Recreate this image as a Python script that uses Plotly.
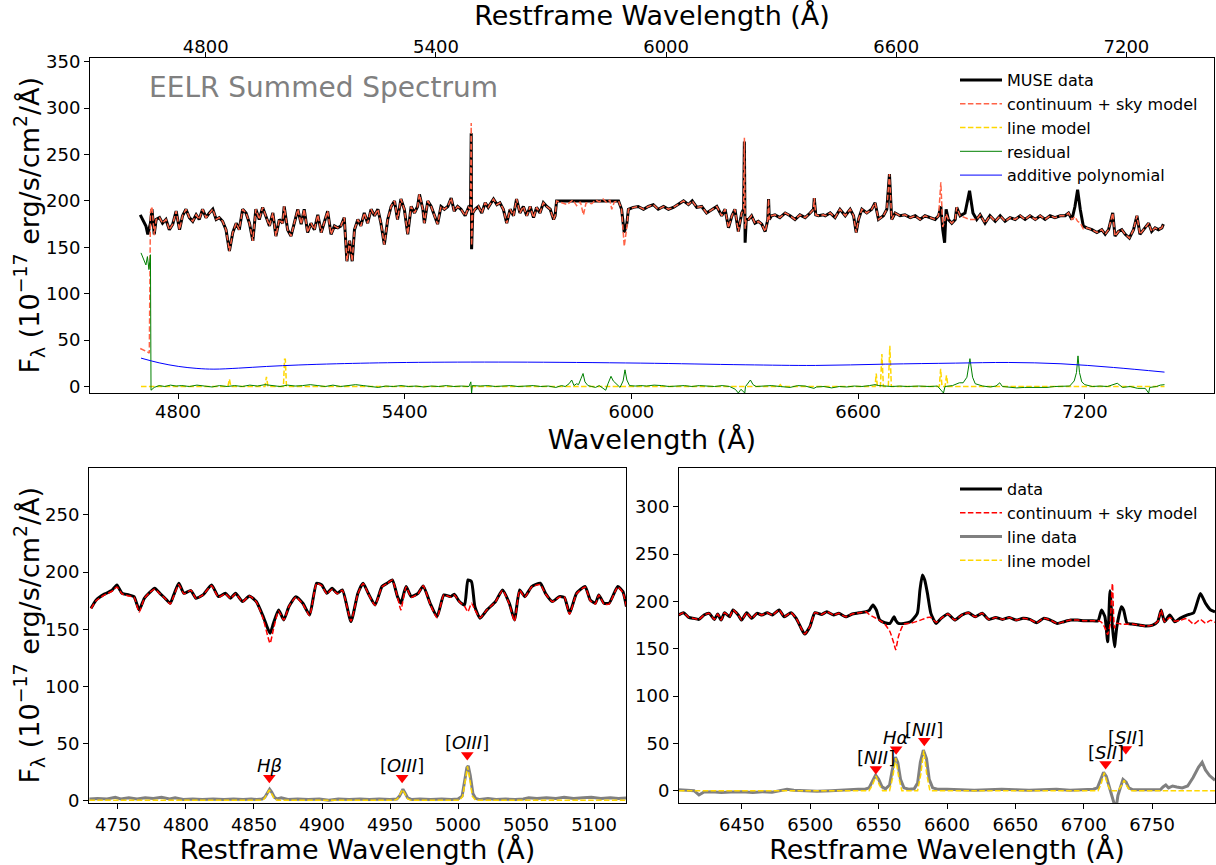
import plotly.graph_objects as go

FONT = "DejaVu Sans"
W, H = 1216, 865
Z = 0.0153  # redshift used for the restframe (top) axis

# ---------------- top panel : observed wavelength ----------------
top_wave = [4700, 4707, 4712, 4715, 4720, 4724, 4727, 4731, 4737, 4742, 4751, 4759, 4768, 4777, 4786, 4795,
            4804, 4812, 4821, 4830, 4839, 4848, 4856, 4865, 4874, 4883, 4892, 4901, 4909, 4918, 4927, 4936,
            4945, 4954, 4962, 4971, 4980, 4989, 4998, 5006, 5015, 5024, 5033, 5042, 5051, 5059, 5068, 5077,
            5081, 5090, 5099, 5108, 5117, 5126, 5134, 5143, 5152, 5161, 5170, 5179, 5187, 5196, 5205, 5214,
            5223, 5231, 5240, 5247, 5254, 5261, 5267, 5276, 5284, 5293, 5302, 5311, 5320, 5329, 5337, 5346,
            5355, 5364, 5373, 5381, 5390, 5399, 5408, 5417, 5426, 5434, 5439, 5448, 5452, 5461, 5470, 5479,
            5487, 5496, 5505, 5514, 5523, 5531, 5540, 5549, 5560, 5569, 5574, 5576, 5577, 5580, 5586, 5595,
            5604, 5613, 5621, 5635, 5644, 5652, 5661, 5670, 5679, 5688, 5696, 5705, 5714, 5723, 5732, 5741,
            5749, 5758, 5767, 5776, 5785, 5794, 5798, 5802, 5815, 5830, 5845, 5855, 5865, 5873, 5880, 5895,
            5905, 5915, 5925, 5935, 5943, 5948, 5955, 5966, 5974, 5981, 5988, 5992, 6005, 6018, 6032, 6045,
            6058, 6071, 6085, 6098, 6111, 6124, 6138, 6151, 6161, 6173, 6186, 6199, 6213, 6226, 6239, 6248,
            6257, 6266, 6274, 6283, 6292, 6297, 6299, 6301, 6304, 6310, 6318, 6327, 6336, 6345, 6354, 6361,
            6363, 6365, 6371, 6380, 6393, 6407, 6420, 6433, 6446, 6460, 6473, 6482, 6484, 6488, 6495, 6508,
            6513, 6526, 6539, 6552, 6566, 6579, 6588, 6595, 6601, 6610, 6623, 6636, 6645, 6654, 6667, 6676,
            6683, 6689, 6698, 6711, 6724, 6738, 6751, 6764, 6777, 6791, 6804, 6813, 6819, 6824, 6829, 6833,
            6839, 6848, 6857, 6861, 6870, 6883, 6895, 6904, 6914, 6923, 6936, 6949, 6963, 6976, 6989, 7002,
            7016, 7029, 7042, 7055, 7069, 7082, 7095, 7108, 7121, 7135, 7148, 7157, 7166, 7174, 7181, 7188,
            7196, 7205, 7219, 7232, 7245, 7254, 7263, 7274, 7280, 7289, 7298, 7307, 7318, 7329, 7338, 7346,
            7360, 7369, 7377, 7386, 7395, 7404, 7408]
top_data = [185, 180, 176, 173, 164, 170, 176, 191, 164, 180, 182, 176, 180, 169, 175, 189,
            169, 184, 191, 182, 178, 185, 180, 191, 182, 187, 191, 180, 182, 178, 169, 146,
            166, 176, 169, 191, 187, 176, 157, 191, 180, 193, 184, 173, 187, 162, 180, 176,
            194, 169, 162, 176, 191, 175, 191, 166, 176, 169, 185, 166, 178, 189, 164, 173,
            171, 173, 182, 135, 157, 135, 169, 180, 173, 187, 176, 191, 184, 191, 176, 153,
            180, 194, 200, 180, 202, 191, 164, 194, 187, 194, 207, 191, 176, 200, 194, 184,
            175, 194, 191, 194, 203, 189, 194, 191, 184, 193, 191, 273, 148, 187, 191, 194,
            187, 198, 193, 202, 196, 198, 191, 176, 191, 184, 202, 187, 194, 184, 194, 182,
            193, 187, 198, 194, 191, 180, 184, 200, 200, 200, 200, 200, 200, 200, 200, 200,
            200, 200, 200, 200, 200, 200, 200, 200, 191, 166, 176, 191, 193, 194, 191, 194,
            196, 191, 194, 191, 193, 196, 200, 196, 200, 193, 194, 187, 191, 194, 184, 191,
            171, 184, 191, 167, 187, 191, 264, 155, 180, 180, 184, 176, 178, 175, 167, 180,
            202, 180, 184, 185, 182, 187, 184, 180, 185, 182, 187, 191, 203, 185, 184, 185,
            184, 187, 182, 191, 184, 191, 184, 166, 180, 191, 187, 191, 198, 180, 184, 191,
            229, 180, 187, 184, 185, 182, 184, 180, 184, 182, 180, 184, 194, 169, 155, 191,
            180, 176, 180, 193, 184, 187, 211, 187, 180, 185, 176, 184, 178, 184, 178, 182,
            180, 184, 180, 184, 180, 184, 180, 184, 182, 184, 184, 187, 180, 194, 212, 191,
            173, 171, 169, 166, 169, 164, 169, 187, 162, 167, 169, 164, 160, 169, 184, 164,
            171, 176, 167, 171, 169, 171, 175]
top_model = [41, 40, 39, 38, 37, 36, 188, 194, 163, 180, 182, 176, 180, 169, 175, 189,
             169, 184, 191, 182, 178, 185, 180, 191, 182, 187, 191, 180, 182, 178, 169, 146,
             166, 176, 169, 191, 187, 176, 157, 191, 180, 193, 184, 173, 187, 162, 180, 176,
             194, 169, 162, 176, 191, 175, 191, 166, 176, 169, 185, 166, 178, 189, 164, 173,
             171, 173, 182, 135, 157, 135, 169, 180, 173, 187, 176, 191, 184, 191, 176, 153,
             180, 194, 200, 180, 202, 191, 164, 194, 187, 194, 207, 191, 176, 200, 194, 184,
             175, 194, 191, 194, 203, 189, 194, 191, 184, 193, 191, 284, 152, 187, 191, 194,
             187, 198, 193, 202, 196, 198, 191, 176, 191, 184, 202, 187, 194, 184, 194, 182,
             193, 187, 198, 194, 191, 180, 184, 200, 198, 196, 201, 195, 199, 185, 198, 197,
             201, 199, 202, 198, 201, 191, 199, 200, 191, 151, 172, 191, 193, 194, 191, 194,
             196, 191, 194, 191, 193, 196, 200, 196, 200, 193, 194, 187, 191, 194, 184, 191,
             171, 184, 191, 167, 187, 191, 268, 170, 180, 180, 184, 176, 178, 175, 167, 180,
             202, 180, 184, 185, 182, 187, 184, 180, 185, 182, 187, 191, 203, 185, 184, 185,
             184, 187, 182, 191, 184, 191, 184, 166, 180, 191, 187, 191, 198, 180, 184, 191,
             229, 180, 187, 184, 185, 182, 184, 180, 184, 182, 180, 184, 220, 172, 178, 186,
             180, 176, 180, 193, 184, 182, 180, 180, 180, 185, 176, 184, 178, 184, 178, 182,
             180, 184, 180, 184, 180, 184, 180, 184, 182, 184, 184, 187, 180, 183, 178, 176,
             170, 171, 169, 166, 169, 164, 169, 187, 162, 167, 169, 164, 160, 169, 184, 164,
             171, 176, 167, 171, 169, 171, 175]

resid_wave = [4702, 4709, 4715, 4719, 4723, 4727, 4728.5, 4737, 4750, 4765, 4780, 4795, 4810, 4830, 4850,
              4870, 4890, 4910, 4930, 4950, 4970, 4990, 5010, 5030, 5050, 5070, 5090, 5110, 5130, 5150,
              5170, 5190, 5210, 5230, 5250, 5270, 5290, 5310, 5330, 5350, 5370, 5390, 5410, 5430, 5450,
              5470, 5490, 5510, 5530, 5550, 5570, 5575, 5577, 5579, 5600, 5620, 5640, 5660, 5680, 5700,
              5720, 5740, 5760, 5780, 5800, 5815, 5825, 5835, 5842, 5848, 5855, 5860, 5867, 5872, 5877,
              5885, 5895, 5905, 5915, 5925, 5932, 5938, 5946, 5952, 5960, 5970, 5978, 5983, 5988, 5995,
              6010, 6025, 6040, 6060, 6080, 6100, 6120, 6140, 6160, 6180, 6200, 6220, 6240, 6260, 6275,
              6283, 6290, 6300, 6302, 6308, 6315, 6322, 6330, 6350, 6370, 6394, 6420, 6440, 6460, 6483,
              6490, 6510, 6530, 6550, 6570, 6590, 6610, 6630, 6645, 6655, 6670, 6690, 6710, 6730, 6760,
              6790, 6810, 6826, 6830, 6850, 6868, 6878, 6888, 6896, 6903, 6910, 6930, 6950, 6965, 6975,
              6982, 7000, 7020, 7040, 7060, 7080, 7100, 7120, 7140, 7160, 7172, 7178, 7182, 7186, 7192,
              7200, 7220, 7240, 7260, 7286, 7300, 7320, 7340, 7360, 7369, 7372, 7390, 7400, 7411]
resid_flux = [144, 138, 131, 140, 126, 142, -4, -1, 1, 0, 1.5, 0.5, 1, 0, 1.5,
              0.5, -0.5, 1, 0, 1, 0, 1.5, 0.5, 2, 1, 0, 1.5, 0.5, 1, 2,
              1, 0, 1.5, 0, 1, 2, 1, 0, -1, 0.5, 0, 1, 0, 0.5, -0.5,
              0.5, 0, 1, 0, 0.5, 0, 5, -7, 1, 0.5, 1, 0, 0.5, 1, 0,
              0.5, 1, 0, 0.5, -1, 1, 0, 3, 7, 1, 3, 2, 9, 14, 5,
              1, 0, -1, 1, -2, -4, 3, 11, 6, 3, -1, 6, 18, 7, 1,
              0.5, 1, 0.5, 1.5, 1, 0, 0.5, 1, 0, 1, 0.5, 0, 1, 0, -3,
              -7, -3, -7, 0, 3, 7, 2, 0, 0.5, 1, 0, -1, 1, 0.5, -2,
              -0.5, 0, -1.5, 0, -0.5, 0.5, 0, 1, 2, 1, 0.5, 0, 0.5, 0, 0.5,
              0, 0.5, -7, 0, 1, 4, 4, 10, 30, 10, 3, 0.5, -0.5, 0.5, 4,
              0, -1, -1.5, -1, -1, -0.5, -1, 0, 0, 0.5, 6, 15, 33, 15, 5,
              2, 0, 0.5, 0, 3.5, -1, 0, -2, -2, -7, -1, 0, 1.5, 2]

poly_wave = [4702, 4750, 4802, 4850, 4895, 4960, 5034, 5120, 5220, 5405, 5684, 6025, 6301, 6487, 6673,
             6858, 6998, 7137, 7276, 7411]
poly_flux = [30.6, 25.5, 21.6, 19.5, 18.7, 19.8, 21.6, 23.2, 24.5, 25.9, 26.3, 25.2, 23.4, 22.7, 24.1,
             25.2, 25.9, 24.5, 20.5, 15.5]

tline_wave = [4702, 4932, 4936, 4940, 5030, 5034, 5038, 5079, 5082, 5084, 5087, 6390, 6394, 6398,
              6645, 6648, 6651, 6659, 6663, 6667, 6680, 6684, 6688, 6815, 6818.5, 6822, 6830, 6834, 6838, 7411]
tline_flux = [0, 0, 8, 0, 0, 10.5, 0, 0, 29.5, 29.5, 0, 0, 2, 0,
              0, 14, 0, 0, 35, 0, 0, 44, 0, 0, 19, 0, 0, 12, 0, 0]

# ---------------- bottom-left : restframe, Hbeta / [OIII] ----------------
bl_wave = [4730.2, 4734.0, 4740.3, 4745.4, 4749.2, 4753.0, 4758.0, 4761.8, 4765.6, 4769.4, 4773.2, 4777.0,
           4780.8, 4784.6, 4788.4, 4791.0, 4794.7, 4798.5, 4803.6, 4807.4, 4812.5, 4818.8, 4823.9, 4828.9,
           4832.7, 4836.5, 4841.6, 4846.6, 4851.7, 4856.8, 4861.8, 4864.3, 4868.1, 4871.9, 4875.7, 4880.8,
           4885.9, 4890.9, 4896.0, 4899.8, 4903.6, 4907.4, 4911.2, 4915.0, 4921.3, 4926.4, 4930.2, 4934.0,
           4939.0, 4944.1, 4947.9, 4951.7, 4955.5, 4958.0, 4961.8, 4965.6, 4970.6, 4974.4, 4979.5, 4984.6,
           4989.6, 4994.7, 4997.2, 5001.0, 5004.8, 5007.3, 5009.9, 5012.4, 5016.2, 5021.3, 5027.6, 5032.7,
           5037.7, 5041.5, 5045.3, 5049.1, 5054.2, 5060.5, 5064.3, 5069.4, 5074.4, 5078.2, 5082.0, 5087.1,
           5093.4, 5097.2, 5101.0, 5103.5, 5107.3, 5111.1, 5117.4, 5121.2, 5123.8]
bl_data = [168.3, 175.6, 180.9, 183.8, 188.7, 181.4, 180.0, 178.5, 166.9, 177.1, 182.0, 185.8,
           181.4, 177.1, 172.7, 180.0, 190.2, 181.4, 183.8, 177.1, 180.0, 188.7, 178.5, 181.4,
           177.1, 181.4, 174.2, 179.1, 174.2, 161.0, 146.4, 155.2, 166.9, 158.1, 169.8, 178.5,
           172.7, 162.5, 190.2, 188.7, 181.4, 185.8, 181.4, 184.4, 156.7, 181.4, 190.2, 181.4,
           171.2, 187.3, 190.2, 193.1, 178.5, 172.7, 187.3, 178.5, 181.4, 187.9, 172.7, 161.0,
           180.0, 178.5, 180.6, 174.2, 171.2, 193.1, 191.6, 169.8, 159.6, 166.9, 174.2, 184.4,
           172.7, 158.1, 184.4, 178.5, 187.3, 190.2, 181.4, 174.2, 178.5, 177.9, 163.9, 181.4,
           187.3, 175.6, 172.7, 180.0, 172.7, 172.7, 187.3, 182.9, 169.8]
bl_model = [168, 175, 180, 183, 187, 181, 179, 178, 165, 177, 182, 185,
            181, 177, 172, 179, 189, 181, 184, 177, 180, 188, 178, 181,
            177, 181, 174, 179, 174, 159, 137.7, 150, 166, 158, 170, 178,
            172, 162, 190, 188, 181, 185, 181, 184, 157, 181, 190, 181,
            171, 187, 190, 193, 178, 166.9, 187, 178, 181, 188, 172, 160,
            180, 178, 180, 174, 170, 165.4, 172.7, 167, 160, 167, 174, 184,
            172, 157, 184, 178, 187, 189, 181, 174, 178, 178, 163, 181,
            187, 175, 172, 180, 172, 172, 187, 182, 170]

bl_lwave = [4729, 4735, 4742, 4748, 4752, 4758, 4764, 4770, 4776, 4782, 4788, 4792, 4798, 4805, 4812,
            4820, 4828, 4835, 4842, 4848, 4852, 4856, 4858, 4860, 4861.5, 4863, 4865, 4867, 4870, 4875,
            4882, 4890, 4898, 4905, 4912, 4920, 4928, 4935, 4942, 4950, 4955, 4957, 4958.5, 4959.5, 4961,
            4963, 4966, 4972, 4980, 4988, 4995, 5000, 5003, 5005, 5006.5, 5007.5, 5009, 5011, 5013, 5016,
            5022, 5028, 5035, 5042, 5048, 5052, 5058, 5065, 5072, 5078, 5085, 5092, 5098, 5105, 5112,
            5118, 5124]
bl_ldata = [1.5, 2, 1.5, 3, 1.5, 2.5, 1.5, 2.5, 2, 3, 1.5, 2.5, 1, 1.5, 1,
            1.5, 1, 1.5, 1, 1.5, 1, 1.5, 3, 7.5, 10, 7.5, 3, 1.5, 2.5, 1,
            1.5, 1, 1.5, 0.5, 1.5, 1, 1.5, 1, 1.5, 1, 1.5, 4, 8.5, 10, 7,
            2.5, 1, 1.5, 1, 1.5, 1, 1.5, 4, 18, 29, 30.5, 22, 6, 2, 1,
            2, 1, 1.5, 1, 1.5, 2.5, 2, 2.5, 2, 3, 2, 2.5, 3, 2, 2.5,
            2, 2.5]
bl_mwave = [4729, 4855, 4857.5, 4859.5, 4861.3, 4863, 4865, 4867.5, 4953, 4955.5, 4957.5, 4959.2, 4961,
            4963, 4965.5, 5001, 5003.5, 5005.5, 5007, 5008.5, 5010.5, 5013, 5124]
bl_mflux = [0.3, 0.3, 1.5, 6, 9.5, 6, 1.5, 0.3, 0.3, 1.5, 6, 9.8, 6,
            1.5, 0.3, 0.3, 4, 20, 30, 20, 4, 0.3, 0.3]

bl_mark_wave = [4861.3, 4958.9, 5006.8]
bl_mark_flux = [20, 20, 40]
bl_mark_text = ["<i>Hβ</i>", "[<i>OIII</i>]", "[<i>OIII</i>]"]

# ---------------- bottom-right : restframe, Halpha / [NII] / [SII] ----------------
br_wave = [6403.6, 6407.3, 6411.1, 6414.8, 6418.6, 6422.3, 6426.1, 6429.8, 6432.3, 6434.8, 6437.3, 6441.0,
           6443.5, 6447.3, 6449.8, 6453.5, 6457.2, 6461.0, 6464.7, 6468.5, 6472.2, 6477.2, 6481.0, 6485.9,
           6489.7, 6493.4, 6495.9, 6499.7, 6503.4, 6508.4, 6512.1, 6517.1, 6520.9, 6525.9, 6530.8, 6535.8,
           6540.8, 6543.3, 6545.8, 6548.3, 6550.8, 6554.5, 6558.3, 6561.3, 6562.5, 6564.5, 6568.3, 6573.3,
           6578.3, 6580.2, 6582.0, 6583.7, 6585.7, 6588.2, 6592.0, 6595.7, 6600.7, 6605.7, 6610.7, 6615.7,
           6620.7, 6625.7, 6630.6, 6635.6, 6640.6, 6645.6, 6650.6, 6655.6, 6660.6, 6665.6, 6670.6, 6675.6,
           6680.6, 6685.5, 6690.5, 6695.5, 6700.5, 6705.5, 6710.5, 6713.0, 6715.5, 6717.5, 6719.2, 6721.0,
           6722.5, 6724.2, 6727.5, 6729.2, 6731.7, 6735.4, 6740.4, 6745.4, 6750.4, 6754.1, 6756.6, 6759.1,
           6762.9, 6766.6, 6770.4, 6775.4, 6780.4, 6785.3, 6789.1, 6792.8, 6796.0]
br_data = [185.6, 188.1, 183.1, 182.1, 181.0, 185.6, 187.4, 181.0, 186.7, 180.3, 188.1, 183.8,
           190.9, 185.6, 180.3, 188.1, 182.1, 187.4, 185.6, 188.1, 185.6, 190.9, 183.8, 188.1,
           182.1, 171.5, 165.5, 173.3, 188.1, 186.3, 189.1, 185.6, 187.4, 183.8, 186.7, 188.1,
           189.1, 190.9, 196.2, 190.9, 180.3, 177.5, 176.8, 183.8, 180.0, 176.8, 176.8, 178.6,
           187.4, 212.0, 227.9, 222.6, 208.5, 187.4, 176.8, 182.1, 186.7, 180.3, 185.6, 188.1,
           183.8, 187.4, 181.0, 183.1, 181.0, 183.1, 180.3, 182.1, 181.0, 177.5, 182.1, 180.3,
           176.8, 178.6, 180.3, 180.3, 179.6, 179.6, 179.6, 190.9, 183.8, 157.4, 211.3, 173.3,
           152.2, 173.3, 194.4, 190.9, 176.8, 176.1, 175.0, 174.0, 175.0, 178.6, 190.9, 178.6,
           185.6, 178.6, 182.1, 185.6, 188.1, 208.5, 197.9, 190.9, 189.0]
br_model = [185.6, 188.1, 183.1, 182.1, 181.0, 185.6, 187.4, 181.0, 186.7, 180.3, 188.1, 183.8,
            190.9, 185.6, 180.3, 188.1, 182.1, 187.4, 185.6, 188.1, 185.6, 190.9, 183.8, 188.1,
            182.1, 171.5, 165.5, 173.3, 188.1, 186.3, 189.1, 185.6, 187.4, 183.8, 186.7, 188.1,
            189.0, 186.0, 184.0, 182.0, 180.0, 176.0, 168.0, 155.0, 149.0, 163.0, 176.0, 177.0,
            179.0, 180.0, 181.0, 182.0, 183.0, 183.0, 178.0, 182.1, 186.7, 180.3, 185.6, 188.1,
            183.8, 187.4, 181.0, 183.1, 181.0, 183.1, 180.3, 182.1, 181.0, 177.5, 182.1, 180.3,
            176.8, 178.6, 180.3, 180.3, 179.6, 179.6, 179.6, 178.0, 172.0, 165.0, 175.0, 219.0,
            172.0, 177.0, 176.0, 176.0, 176.0, 176.1, 175.0, 174.0, 175.0, 178.6, 190.9, 178.6,
            183.0, 179.0, 180.0, 182.0, 176.0, 181.0, 177.0, 180.0, 178.0]

br_lwave = [6404, 6410, 6415, 6418.6, 6422, 6428, 6435, 6442, 6450, 6458, 6465, 6472, 6478, 6483, 6488,
            6495, 6505, 6515, 6525, 6535, 6540, 6543, 6545.5, 6547.8, 6550, 6552.5, 6555, 6558, 6560,
            6562.3, 6564, 6566, 6568.5, 6572, 6576, 6578.5, 6580.5, 6582.7, 6585, 6587, 6589.5, 6593,
            6600, 6610, 6620, 6630, 6640, 6650, 6660, 6670, 6680, 6690, 6700, 6707, 6710, 6712.5, 6714.5,
            6716.5, 6718.5, 6720, 6722, 6723.5, 6725, 6726.5, 6728.7, 6731, 6733, 6736, 6742, 6750, 6756,
            6758, 6760, 6762, 6765, 6768, 6772, 6776, 6780, 6784, 6786.6, 6789, 6792, 6796]
br_ldata = [1, 0.5, 0, -4.5, -1.5, -1, -2, -1.5, -1, -2, -1, -1.5, 0.5, 1.5, 0.5,
            0, -0.5, 0, 1, 1.5, 1.5, 3, 10, 16.5, 12, 4, 2, 6, 22,
            35.5, 30, 12, 3, 1.5, 2, 8, 30, 43, 34, 12, 3, 1.5,
            1.5, 1, 0.5, 1, 1.5, 1, 0.5, 1, 1.5, 0.5, 1, 1.5, 3, 12, 19.5,
            15, 5, -2, -10, -20, -5, 2, 12, 9, 3, 1, 1, 0.5, 1,
            4, 6, 3, 5, 4, 3, 5, 14, 25, 30, 22, 16, 11]
br_mwave = [6404, 6543, 6545.5, 6548, 6550.5, 6553, 6558, 6560.3, 6562.5, 6564.7, 6567, 6578.5, 6580.8,
            6583, 6585.2, 6587.5, 6710.5, 6712.8, 6715, 6717.2, 6719.5, 6725, 6727.3, 6729.5, 6731.7,
            6734, 6796]
br_mflux = [0, 0, 6, 15.5, 6, 0, 0, 14, 34.5, 14, 0, 0, 17,
            42.5, 17, 0, 0, 7.5, 19, 7.5, 0, 0, 4.5, 11, 4.5,
            0, 0]

br_mark_wave = [6548.0, 6562.8, 6583.4, 6716.0, 6730.8]
br_mark_flux = [23, 43.7, 52.8, 28.2, 44]
br_mark_text = ["[<i>NII</i>]", "<i>Hα</i>", "[<i>NII</i>]", "[<i>SII</i>]", "[<i>SII</i>]"]

# ---------------- figure ----------------
DASH = "5.5px,2.4px"
SMOOTH = dict(shape="spline", smoothing=0.5)
fig = go.Figure()

# top panel
fig.add_trace(go.Scatter(x=top_wave, y=top_data, mode="lines", name="MUSE data",
                         line=dict(color="black", width=3), xaxis="x", yaxis="y", legend="legend"))
fig.add_trace(go.Scatter(x=top_wave, y=top_model, mode="lines", name="continuum + sky model",
                         line=dict(color="#FF6347", width=1.5, dash=DASH), xaxis="x", yaxis="y", legend="legend"))
fig.add_trace(go.Scatter(x=tline_wave, y=tline_flux, mode="lines", name="line model",
                         line=dict(color="#FFD700", width=1.5, dash=DASH), xaxis="x", yaxis="y", legend="legend"))
fig.add_trace(go.Scatter(x=resid_wave, y=resid_flux, mode="lines", name="residual",
                         line=dict(color="#008000", width=1), xaxis="x", yaxis="y", legend="legend"))
fig.add_trace(go.Scatter(x=poly_wave, y=poly_flux, mode="lines", name="additive polynomial",
                         line=dict(color="#0000FF", width=1, shape="spline"), xaxis="x", yaxis="y", legend="legend"))
# invisible trace that carries the restframe top axis
rest_ends = [top_wave[0] / (1 + Z), top_wave[-1] / (1 + Z)]
fig.add_trace(go.Scatter(x=rest_ends, y=[top_data[0], top_data[-1]], mode="lines", opacity=0,
                         line=dict(width=0), showlegend=False, hoverinfo="skip", xaxis="x4", yaxis="y"))

# bottom-left
fig.add_trace(go.Scatter(x=bl_wave, y=bl_data, mode="lines", line=dict(color="black", width=3, **SMOOTH),
                         showlegend=False, xaxis="x2", yaxis="y2"))
fig.add_trace(go.Scatter(x=bl_wave, y=bl_model, mode="lines",
                         line=dict(color="#FF0000", width=1.5, dash=DASH, **SMOOTH),
                         showlegend=False, xaxis="x2", yaxis="y2"))
fig.add_trace(go.Scatter(x=bl_lwave, y=bl_ldata, mode="lines", line=dict(color="#808080", width=3),
                         showlegend=False, xaxis="x2", yaxis="y2"))
fig.add_trace(go.Scatter(x=bl_mwave, y=bl_mflux, mode="lines",
                         line=dict(color="#FFD700", width=1.5, dash=DASH),
                         showlegend=False, xaxis="x2", yaxis="y2"))
fig.add_trace(go.Scatter(x=bl_mark_wave, y=bl_mark_flux, mode="markers",
                         marker=dict(symbol="triangle-down", color="#FF0000", size=11),
                         showlegend=False, xaxis="x2", yaxis="y2"))

# bottom-right
fig.add_trace(go.Scatter(x=br_wave, y=br_data, mode="lines", name="data",
                         line=dict(color="black", width=3, **SMOOTH),
                         xaxis="x3", yaxis="y3", legend="legend2"))
fig.add_trace(go.Scatter(x=br_wave, y=br_model, mode="lines", name="continuum + sky model",
                         line=dict(color="#FF0000", width=1.5, dash=DASH, **SMOOTH),
                         xaxis="x3", yaxis="y3", legend="legend2"))
fig.add_trace(go.Scatter(x=br_lwave, y=br_ldata, mode="lines", name="line data",
                         line=dict(color="#808080", width=3), xaxis="x3", yaxis="y3", legend="legend2"))
fig.add_trace(go.Scatter(x=br_mwave, y=br_mflux, mode="lines", name="line model",
                         line=dict(color="#FFD700", width=1.5, dash=DASH),
                         xaxis="x3", yaxis="y3", legend="legend2"))
fig.add_trace(go.Scatter(x=br_mark_wave, y=br_mark_flux, mode="markers",
                         marker=dict(symbol="triangle-down", color="#FF0000", size=11),
                         showlegend=False, xaxis="x3", yaxis="y3"))

LABELFONT = dict(size=18, family=FONT, color="black")
annotations = []
for xw, yf, t in zip(bl_mark_wave, bl_mark_flux, bl_mark_text):
    annotations.append(dict(x=xw, y=yf + 11, xref="x2", yref="y2", text=t, showarrow=False,
                            yanchor="middle", font=LABELFONT))
for xw, yf, t in zip(br_mark_wave, br_mark_flux, br_mark_text):
    annotations.append(dict(x=xw, y=yf + 12, xref="x3", yref="y3", text=t, showarrow=False,
                            yanchor="middle", font=LABELFONT))
annotations.append(dict(x=147 / W, y=1 - 87 / H, xref="paper", yref="paper", xanchor="left", yanchor="middle",
                        text="EELR Summed Spectrum", showarrow=False,
                        font=dict(size=28, family=FONT, color="#808080")))

YTITLE = "F<sub>λ</sub> (10<sup>−17</sup> erg/s/cm<sup>2</sup>/Å)"
TICKFONT = dict(size=18, family=FONT, color="black")
TITLEFONT = dict(size=27, family=FONT, color="black")

TOP_Y = [1 - 393 / H, 1 - 58 / H]
BOT_Y = [1 - 803 / H, 1 - 468 / H]

# y-axis titles as rotated paper annotations (exact horizontal placement)
annotations.append(dict(x=29 / W, y=(TOP_Y[0] + TOP_Y[1]) / 2, xref="paper", yref="paper", text=YTITLE,
                        textangle=-90, showarrow=False, xanchor="center", yanchor="middle", font=TITLEFONT))
annotations.append(dict(x=29 / W, y=(BOT_Y[0] + BOT_Y[1]) / 2, xref="paper", yref="paper", text=YTITLE,
                        textangle=-90, showarrow=False, xanchor="center", yanchor="middle", font=TITLEFONT))


def ax(**kw):
    base = dict(showline=True, linecolor="black", linewidth=1, mirror=True, ticks="outside", ticklen=5,
                tickwidth=1, tickcolor="black", showgrid=False, zeroline=False, tickfont=TICKFONT,
                automargin=False)
    base.update(kw)
    return base


X_LO, X_HI = 4567, 7542

fig.update_layout(
    width=W, height=H, margin=dict(l=0, r=0, t=0, b=0),
    paper_bgcolor="white", plot_bgcolor="white", template="none",
    font=dict(family=FONT, color="black"),
    annotations=annotations,
    xaxis=ax(domain=[90 / W, 1214 / W], anchor="y", range=[X_LO, X_HI],
             tickvals=[4800, 5400, 6000, 6600, 7200], ticklabelstandoff=-3,
             title=dict(text="Wavelength (Å)", font=TITLEFONT, standoff=9)),
    xaxis4=ax(overlaying="x", side="top", anchor="y", range=[X_LO / (1 + Z), X_HI / (1 + Z)],
              tickvals=[4800, 5400, 6000, 6600, 7200], mirror=False, ticklabelstandoff=-8,
              title=dict(text="Restframe Wavelength (Å)", font=TITLEFONT, standoff=4)),
    yaxis=ax(domain=TOP_Y, anchor="x", range=[-7, 354], tickvals=[0, 50, 100, 150, 200, 250, 300, 350]),
    xaxis2=ax(domain=[89 / W, 626 / W], anchor="y2", range=[4728.7, 5123.5],
              tickvals=[4750, 4800, 4850, 4900, 4950, 5000, 5050, 5100],
              title=dict(text="Restframe Wavelength (Å)", font=TITLEFONT, standoff=6)),
    yaxis2=ax(domain=BOT_Y, anchor="x2", range=[-2, 291], tickvals=[0, 50, 100, 150, 200, 250]),
    xaxis3=ax(domain=[679 / W, 1215 / W], anchor="y3", range=[6404, 6796],
              tickvals=[6450, 6500, 6550, 6600, 6650, 6700, 6750],
              title=dict(text="Restframe Wavelength (Å)", font=TITLEFONT, standoff=6)),
    yaxis3=ax(domain=BOT_Y, anchor="x3", range=[-13, 341], tickvals=[0, 50, 100, 150, 200, 250, 300]),
    legend=dict(x=955 / W, y=1 - 63 / H, xanchor="left", yanchor="top", bgcolor="rgba(0,0,0,0)",
                font=dict(size=16, family=FONT, color="black"), tracegroupgap=0, itemwidth=42),
    legend2=dict(x=955 / W, y=1 - 472 / H, xanchor="left", yanchor="top", bgcolor="rgba(0,0,0,0)",
                 font=dict(size=16, family=FONT, color="black"), tracegroupgap=0, itemwidth=42),
    hovermode=False,
)

fig.write_html("out.html")
